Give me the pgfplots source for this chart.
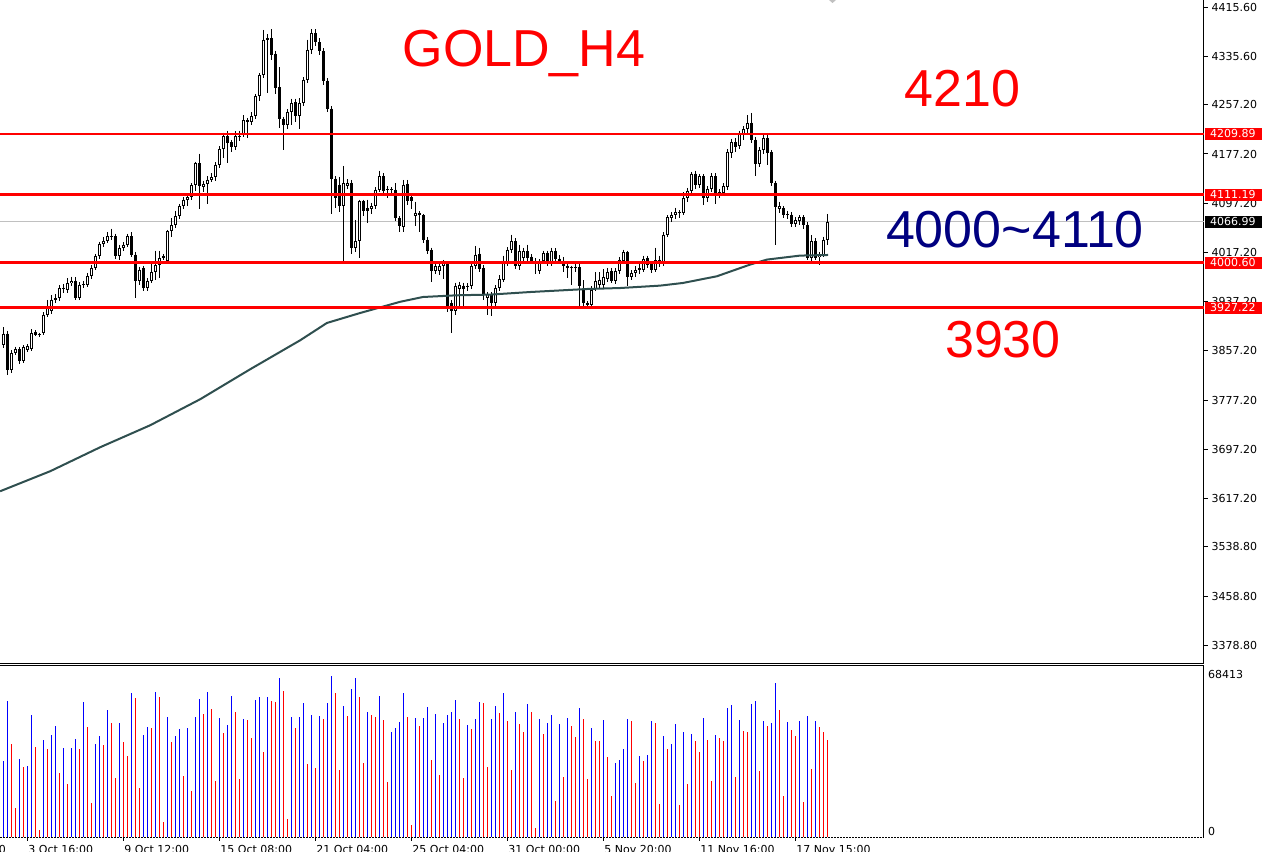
\documentclass[border=0pt]{standalone}
\usepackage{fontspec}
\setmainfont{DejaVu Sans}
\newfontfamily\arial{Liberation Sans}
\usepackage{pgfplots}
\usepackage{pgfplotstable}
\pgfplotsset{compat=1.18}
\definecolor{maline}{RGB}{47,79,79}
\definecolor{navyblue}{RGB}{0,0,128}
\definecolor{lblgray}{RGB}{192,192,192}
\newcommand\tk{\fontsize{11}{13}\selectfont}

\pgfplotstableread{
k o h l c
0 3867.4 3895.6 3862.0 3885.3
1 3885.3 3890.0 3818.6 3826.8
2 3826.8 3858.0 3822.0 3853.9
3 3853.9 3864.0 3850.0 3860.4
4 3860.4 3863.0 3836.0 3840.3
5 3841.4 3866.0 3838.0 3863.1
6 3859.3 3868.0 3856.0 3864.7
7 3860.4 3892.0 3857.0 3886.4
8 3888.0 3891.0 3881.0 3883.7
9 3883.7 3887.0 3880.0 3884.5
10 3886.4 3920.0 3883.0 3916.2
11 3916.2 3940.0 3913.0 3929.7
12 3921.6 3948.0 3917.0 3940.5
13 3940.0 3950.0 3935.0 3943.2
14 3943.2 3964.0 3939.0 3959.5
15 3960.0 3966.0 3952.0 3958.0
16 3956.8 3975.0 3951.0 3967.6
17 3967.6 3978.0 3962.0 3971.4
18 3971.4 3977.0 3940.0 3943.2
19 3943.2 3969.0 3940.0 3964.9
20 3964.9 3971.0 3960.0 3965.5
21 3964.9 3984.0 3961.0 3978.4
22 3978.4 3997.0 3974.0 3992.0
23 3992.0 4015.0 3988.0 4011.0
24 4011.0 4035.0 4006.0 4031.0
25 4031.0 4042.0 4026.0 4036.4
26 4036.4 4050.0 4032.0 4043.4
27 4043.4 4056.0 4038.0 4044.0
28 4043.4 4048.0 4007.0 4011.0
29 4011.0 4030.0 4005.0 4024.5
30 4024.5 4034.0 4020.0 4029.9
31 4029.9 4048.0 4026.0 4043.4
32 4043.4 4050.0 4010.0 4013.7
33 4013.7 4018.0 3943.0 3970.3
34 3971.4 3994.0 3965.0 3989.3
35 3992.0 3996.0 3955.0 3959.5
36 3959.5 3975.0 3954.0 3970.3
37 3970.3 4000.0 3967.0 3985.5
38 3985.5 4020.0 3972.0 3996.3
39 3996.3 4020.0 3975.0 4008.3
40 4008.3 4014.0 4005.0 4011.0
41 4002.8 4054.0 3999.0 4051.6
42 4051.6 4073.0 4042.0 4061.3
43 4061.3 4085.0 4057.0 4076.0
44 4076.0 4096.0 4071.0 4092.2
45 4092.2 4107.0 4088.0 4103.0
46 4103.0 4113.0 4093.0 4106.8
47 4106.8 4130.0 4102.0 4126.3
48 4126.3 4165.0 4117.0 4162.6
49 4162.6 4178.0 4088.0 4124.7
50 4123.6 4134.0 4115.0 4129.0
51 4129.0 4141.0 4096.0 4135.5
52 4135.5 4146.0 4131.0 4139.3
53 4139.3 4164.0 4134.0 4159.9
54 4159.9 4190.0 4155.0 4185.4
55 4185.4 4212.0 4171.0 4206.0
56 4206.0 4215.0 4162.0 4195.1
57 4196.2 4200.0 4180.0 4188.1
58 4188.1 4214.0 4183.0 4206.0
59 4206.0 4215.0 4198.0 4207.0
60 4208.7 4240.0 4205.0 4232.0
61 4232.0 4236.0 4204.0 4228.7
62 4228.7 4245.0 4224.0 4238.4
63 4238.4 4275.0 4234.0 4271.0
64 4271.0 4309.0 4264.0 4305.1
65 4305.1 4379.0 4300.0 4363.1
66 4365.8 4372.0 4276.0 4363.1
67 4365.8 4380.0 4330.0 4338.7
68 4340.3 4345.0 4275.0 4284.5
69 4285.6 4318.0 4220.0 4234.7
70 4234.7 4238.0 4184.0 4223.8
71 4223.8 4250.0 4218.0 4245.5
72 4245.5 4267.0 4225.0 4260.1
73 4261.2 4267.0 4230.0 4238.4
74 4238.4 4268.0 4218.0 4260.1
75 4260.1 4302.0 4255.0 4298.0
76 4298.0 4363.0 4292.0 4346.8
77 4346.8 4380.0 4340.0 4373.9
78 4373.9 4380.0 4352.0 4358.7
79 4358.7 4365.0 4338.0 4344.1
80 4344.1 4349.0 4290.0 4295.3
81 4296.4 4300.0 4245.0 4250.9
82 4250.9 4255.0 4080.0 4137.1
83 4137.1 4141.0 4090.0 4105.8
84 4127.4 4140.0 4083.0 4092.2
85 4092.2 4158.0 4001.7 4130.1
86 4126.0 4136.0 4120.0 4130.1
87 4130.1 4135.0 4014.0 4024.5
88 4024.5 4070.0 4018.0 4035.3
89 4035.3 4103.0 4008.0 4100.3
90 4100.3 4103.0 4077.0 4084.1
91 4089.5 4103.0 4065.0 4084.1
92 4087.9 4098.0 4079.0 4092.2
93 4092.2 4123.0 4088.0 4119.3
94 4119.3 4150.0 4115.0 4140.9
95 4140.9 4146.0 4110.0 4116.6
96 4119.0 4125.0 4105.0 4120.0
97 4119.3 4123.0 4110.0 4120.5
98 4119.3 4130.0 4068.0 4073.2
99 4073.2 4076.0 4050.0 4059.7
100 4058.1 4135.0 4050.0 4127.4
101 4129.1 4135.0 4095.0 4100.3
102 4106.8 4110.0 4088.0 4100.3
103 4075.9 4100.0 4060.0 4081.4
104 4081.4 4084.0 4050.0 4077.6
105 4077.6 4080.0 4032.0 4038.1
106 4038.1 4042.0 4015.0 4020.2
107 4021.3 4025.0 3970.0 3987.7
108 3987.7 3999.0 3982.0 3994.7
109 3987.7 4000.0 3980.0 3995.8
110 3994.7 4005.0 3974.0 4000.1
111 4000.1 4003.0 3920.0 3929.7
112 3935.1 3940.0 3886.4 3921.6
113 3921.6 3968.0 3916.0 3963.3
114 3957.9 3970.0 3930.0 3964.9
115 3963.3 3968.0 3928.0 3957.9
116 3962.5 3967.0 3955.0 3963.3
117 3962.2 4003.0 3958.0 3995.8
118 3995.8 4028.0 3990.0 4013.7
119 4015.3 4025.0 3985.0 3990.4
120 3992.0 3997.0 3940.0 3948.7
121 3943.3 3953.0 3915.0 3949.7
122 3949.7 3953.0 3914.0 3935.1
123 3935.1 3964.0 3928.0 3959.5
124 3959.5 3980.0 3954.0 3974.1
125 3973.0 4012.0 3969.0 4001.2
126 4001.2 4026.0 3995.0 4021.8
127 4021.8 4046.0 4017.0 4035.3
128 4035.3 4040.0 3990.0 3994.7
129 3994.7 4030.0 3989.0 4020.2
130 4008.2 4025.0 4002.0 4019.1
131 4019.1 4030.0 4004.0 4008.2
132 4010.4 4014.0 3998.0 4002.8
133 4002.8 4008.0 3982.0 4003.5
134 3986.6 4006.0 3982.0 4002.8
135 4002.8 4020.0 3998.0 4016.4
136 4016.4 4020.0 3995.0 4000.1
137 4000.1 4025.0 3996.0 4020.2
138 4020.2 4024.0 4002.0 4007.2
139 4007.2 4013.0 3998.0 4002.8
140 4002.8 4010.0 3985.0 3995.8
141 3995.8 3999.0 3976.0 3992.0
142 3993.1 3996.0 3965.0 3993.6
143 3993.1 3998.0 3985.0 3994.0
144 3993.1 3998.0 3928.0 3962.2
145 3956.8 3972.0 3929.0 3935.1
146 3935.1 3938.0 3927.0 3931.3
147 3932.4 3962.0 3928.0 3956.8
148 3958.4 3985.0 3955.0 3971.4
149 3964.9 3985.0 3960.0 3973.0
150 3964.9 3990.0 3960.0 3976.8
151 3974.7 3992.0 3970.0 3985.5
152 3986.6 3992.0 3968.0 3971.4
153 3971.4 3992.0 3966.0 3986.6
154 3986.6 4010.0 3982.0 4005.5
155 4003.9 4022.0 3999.0 4017.5
156 4017.5 4020.0 3962.0 3976.8
157 3976.8 3988.0 3972.0 3983.3
158 3983.3 3995.0 3978.0 3988.8
159 3988.8 4000.0 3983.0 3992.0
160 3989.3 4012.0 3985.0 4006.6
161 4008.2 4012.0 3992.0 3997.4
162 3998.5 4003.0 3984.0 3989.3
163 3989.3 4025.0 3985.0 4004.5
164 4005.5 4012.0 3993.0 4000.1
165 4000.1 4050.0 3996.0 4046.2
166 4046.2 4078.0 4042.0 4074.3
167 4073.2 4083.0 4066.0 4078.7
168 4078.7 4090.0 4072.0 4083.0
169 4083.0 4086.0 4074.0 4083.5
170 4081.4 4115.0 4078.0 4105.7
171 4105.7 4122.0 4100.0 4117.7
172 4117.7 4148.0 4114.0 4145.3
173 4145.3 4150.0 4120.0 4127.4
174 4127.4 4145.0 4122.0 4141.0
175 4141.0 4145.0 4095.0 4105.7
176 4105.7 4125.0 4100.0 4120.9
177 4120.9 4146.0 4115.0 4141.0
178 4141.0 4146.0 4096.0 4113.9
179 4111.2 4120.0 4106.0 4115.5
180 4113.9 4130.0 4110.0 4124.7
181 4123.1 4185.0 4118.0 4180.5
182 4178.9 4202.0 4170.0 4196.2
183 4196.2 4203.0 4180.0 4188.6
184 4189.7 4215.0 4185.0 4210.3
185 4210.3 4222.0 4200.0 4217.3
186 4217.3 4240.0 4212.0 4228.2
187 4228.2 4243.9 4195.0 4200.5
188 4200.5 4205.0 4142.0 4161.0
189 4161.0 4188.0 4156.0 4184.3
190 4184.3 4208.0 4178.0 4203.3
191 4203.3 4208.0 4160.0 4178.9
192 4180.5 4184.0 4125.0 4130.1
193 4130.1 4134.0 4029.9 4090.6
194 4088.4 4100.0 4082.0 4092.2
195 4089.5 4093.0 4073.0 4078.7
196 4078.7 4085.0 4072.0 4079.5
197 4078.7 4083.0 4058.0 4063.5
198 4063.5 4075.0 4058.0 4069.4
199 4068.9 4078.0 4062.0 4074.3
200 4074.3 4078.0 4055.0 4062.4
201 4062.4 4066.0 4005.0 4008.3
202 4008.3 4045.0 4003.0 4035.3
203 4035.3 4040.0 4005.0 4008.3
204 4010.0 4018.0 3997.0 4013.6
205 4013.6 4043.0 4010.0 4038.0
206 4038.0 4080.0 4030.0 4066.99
}\candles

\pgfplotstableread{
k m
-0.8 3629.1
11.7 3661.6
24.2 3700.6
36.7 3736.3
49.2 3778.6
61.7 3827.3
74.2 3874.4
80.9 3902.6
89.2 3918.8
99.2 3937.0
104.9 3944.8
113.4 3947.6
121.7 3948.7
131.7 3952.9
145.9 3957.8
154.2 3959.4
164.2 3963.3
169.9 3967.6
178.4 3978.5
186.7 3997.5
190.9 4005.6
199.2 4012.1
206.2 4013.1
}\ma

\pgfplotstableread{
k v d
0 32430 0
1 57810 0
2 39480 1
3 12549 1
4 33135 0
5 29751 1
6 30174 0
7 51747 0
8 38211 1
9 3102 1
10 41172 0
11 37365 1
12 43287 0
13 47094 0
14 27213 1
15 37788 0
16 22560 1
17 37788 0
18 41595 0
19 37365 1
20 57246 0
21 46671 1
22 14523 1
23 39480 0
24 42864 0
25 39057 1
26 53862 0
27 48363 1
28 25098 1
29 48363 0
30 40326 1
31 34404 1
32 61053 0
33 58938 1
34 20868 1
35 43287 0
36 46671 0
37 46248 1
38 61476 0
39 59361 1
40 6486 1
41 50901 0
42 40326 1
43 42864 0
44 45825 0
45 25944 1
46 46248 0
47 19599 1
48 50901 0
49 58515 0
50 52170 1
51 61476 0
52 54285 1
53 23829 1
54 50478 0
55 44133 1
56 47517 0
57 59784 0
58 53016 1
59 24675 1
60 50055 0
61 49632 1
62 42018 1
63 58092 0
64 59361 0
65 36096 1
66 59361 0
67 57669 1
68 57246 1
69 67398 0
70 61899 1
71 7755 1
72 50901 0
73 46248 1
74 50901 0
75 56823 0
76 31020 1
77 51747 0
78 29328 1
79 51324 0
80 50055 1
81 56823 0
82 68413 0
83 61053 1
84 28482 1
85 55554 0
86 51324 1
87 62745 0
88 67398 0
89 59361 1
90 31443 1
91 53016 0
92 51747 1
93 50901 1
94 59784 0
95 49632 1
96 23406 1
97 44556 0
98 46248 0
99 48786 0
100 61053 0
101 50901 1
102 5217 1
103 50478 0
104 47094 1
105 50478 0
106 55131 0
107 32712 1
108 52170 0
109 26367 1
110 48363 0
111 51747 0
112 53016 0
113 58092 0
114 50055 1
115 25098 1
116 47517 0
117 45825 1
118 50055 0
119 57246 0
120 56823 1
121 29751 1
122 50055 0
123 55554 0
124 52593 1
125 61053 0
126 49209 1
127 28482 1
128 53016 0
129 47940 1
130 44556 1
131 56400 0
132 53016 1
133 3948 1
134 50055 0
135 43710 1
136 48363 0
137 51747 0
138 15369 1
139 47940 0
140 25521 1
141 50478 0
142 47094 1
143 42441 1
144 54708 0
145 50055 1
146 24675 1
147 46248 0
148 40749 1
149 40749 1
150 49632 0
151 33981 1
152 17484 1
153 31443 0
154 32712 0
155 37365 0
156 50055 0
157 49209 1
158 22983 1
159 34404 0
160 32289 1
161 34827 0
162 49209 0
163 48363 1
164 14100 1
165 42864 0
166 37365 1
167 39480 0
168 47940 0
169 13677 1
170 44556 0
171 22560 1
172 43710 0
173 40749 1
174 36096 1
175 50478 0
176 41172 1
177 23829 1
178 43287 0
179 42018 1
180 40749 1
181 54708 0
182 55977 0
183 25521 1
184 49632 0
185 44979 1
186 44556 1
187 56400 0
188 57669 0
189 28059 1
190 49209 0
191 47094 1
192 48363 0
193 65283 0
194 53862 1
195 17484 1
196 48786 0
197 45402 1
198 42864 1
199 49209 0
200 14946 1
201 51324 0
202 28905 1
203 49209 0
204 46671 1
205 44556 1
206 41172 1
}\vols

\begin{document}
\begin{tikzpicture}[x=1pt,y=1pt]
\begin{axis}[
  at={(0pt,0pt)}, anchor=north west,
  scale only axis, width=1204pt, height=663.5pt,
  xmin=-0.825, xmax=300.175, ymin=3349.2, ymax=4427.46,
  axis x line*=bottom, axis y line*=right,
  axis line style={black, line width=1pt, -},
  xtick=\empty,
  ytick={4415.6,4335.6,4257.2,4177.2,4097.2,4017.2,3937.2,3857.2,3777.2,3697.2,3617.2,3538.8,3458.8,3378.8},
  yticklabels={4415.60,4335.60,4257.20,4177.20,4097.20,4017.20,3937.20,3857.20,3777.20,3697.20,3617.20,3538.80,3458.80,3378.80},
  tick align=outside, major tick length=4pt,
  ytick style={black, line width=1pt},
  yticklabel style={font=\tk, inner sep=0pt, anchor=west, xshift=3.5pt},
  unbounded coords=discard,
]
\addplot[lblgray, line width=1pt] coordinates {(-1,4066.99) (301,4066.99)};
% wicks
\addplot[draw=none, mark=none, error bars/.cd, y dir=minus, y explicit, error mark=none,
  error bar style={draw=black, line width=1pt, solid}]
  table[x=k, y=h, y error minus expr={\thisrow{h}-\thisrow{l}}] {\candles};
% body outline
\addplot[draw=none, mark=none, error bars/.cd, y dir=minus, y explicit, error mark=none,
  error bar style={draw=black, line width=3pt, solid}]
  table[x=k, y expr={max(\thisrow{o},\thisrow{c})}, y error minus expr={max(abs(\thisrow{c}-\thisrow{o}),1.63)}] {\candles};
% white interior of rising candles
\addplot[draw=none, mark=none, restrict expr to domain={\thisrow{c}-\thisrow{o}}{3.3:100000},
  error bars/.cd, y dir=minus, y explicit, error mark=none,
  error bar style={draw=white, line width=1pt, solid}]
  table[x=k, y expr={\thisrow{c}-1.63}, y error minus expr={\thisrow{c}-\thisrow{o}-3.26}] {\candles};
% moving average
\addplot[maline, line width=2pt] table[x=k, y=m] {\ma};
% levels
\addplot[red, line width=2.7pt] coordinates {(-1,4209.89) (301,4209.89)};
\addplot[red, line width=2.7pt] coordinates {(-1,4111.19) (301,4111.19)};
\addplot[red, line width=2.7pt] coordinates {(-1,4000.60) (301,4000.60)};
\addplot[red, line width=2.7pt] coordinates {(-1,3927.22) (301,3927.22)};
\coordinate (q1) at (axis cs:0,4209.89);
\coordinate (q2) at (axis cs:0,4111.19);
\coordinate (q3) at (axis cs:0,4066.99);
\coordinate (q4) at (axis cs:0,4000.60);
\coordinate (q5) at (axis cs:0,3927.22);
\end{axis}

\begin{axis}[
  at={(0pt,-665.7pt)}, anchor=north west,
  scale only axis, width=1204pt, height=171.6pt,
  xmin=-0.825, xmax=300.175, ymin=0, ymax=72647,
  axis lines=none, clip=false,
]
\addplot[ycomb, blue, line width=1pt, mark=none, restrict expr to domain={\thisrow{d}}{-0.5:0.5}] table[x=k, y=v] {\vols};
\addplot[ycomb, red, line width=1pt, mark=none, restrict expr to domain={\thisrow{d}}{0.5:1.5}] table[x=k, y=v] {\vols};
\draw[black, line width=1pt] (rel axis cs:0,1) -- (rel axis cs:1,1) -- (rel axis cs:1,0);
\draw[black, line width=1pt, dash pattern=on 2pt off 1pt] (rel axis cs:0,0) -- (rel axis cs:1,0);
\draw[black, line width=1pt] (axis cs:6,0) -- ++(0pt,-4pt);
\draw[black, line width=1pt] (axis cs:30,0) -- ++(0pt,-4pt);
\draw[black, line width=1pt] (axis cs:54,0) -- ++(0pt,-4pt);
\draw[black, line width=1pt] (axis cs:78,0) -- ++(0pt,-4pt);
\draw[black, line width=1pt] (axis cs:102,0) -- ++(0pt,-4pt);
\draw[black, line width=1pt] (axis cs:126,0) -- ++(0pt,-4pt);
\draw[black, line width=1pt] (axis cs:150,0) -- ++(0pt,-4pt);
\draw[black, line width=1pt] (axis cs:174,0) -- ++(0pt,-4pt);
\draw[black, line width=1pt] (axis cs:198,0) -- ++(0pt,-4pt);
\tikzset{xl/.style={anchor=north west, inner sep=0pt, font=\tk, xshift=1pt, yshift=-7.7pt}}
\node[xl] at (axis cs:-18,0) {29 Sep 16:00};
\node[xl] at (axis cs:6,0) {3 Oct 16:00};
\node[xl] at (axis cs:30,0) {9 Oct 12:00};
\node[xl] at (axis cs:54,0) {15 Oct 08:00};
\node[xl] at (axis cs:78,0) {21 Oct 04:00};
\node[xl] at (axis cs:102,0) {25 Oct 04:00};
\node[xl] at (axis cs:126,0) {31 Oct 00:00};
\node[xl] at (axis cs:150,0) {5 Nov 20:00};
\node[xl] at (axis cs:174,0) {11 Nov 16:00};
\node[xl] at (axis cs:198,0) {17 Nov 15:00};
\end{axis}

% price label boxes
\tikzset{pb/.style={anchor=west, inner sep=0pt, minimum height=12pt, font=\tk, text=white}}
\node[pb, fill=red] at (1205,0 |- q1) {\makebox[57pt][l]{\hspace{5pt}4209.89}};
\node[pb, fill=red] at (1205,0 |- q2) {\makebox[57pt][l]{\hspace{5pt}4111.19}};
\node[pb, fill=black] at (1205,0 |- q3) {\makebox[57pt][l]{\hspace{5pt}4066.99}};
\node[pb, fill=red] at (1205,0 |- q4) {\makebox[57pt][l]{\hspace{5pt}4000.60}};
\node[pb, fill=red] at (1205,0 |- q5) {\makebox[57pt][l]{\hspace{5pt}3927.22}};
% volume scale labels
\node[anchor=west, inner sep=0pt, font=\tk] at (1208,-674.7) {68413};
\node[anchor=west, inner sep=0pt, font=\tk] at (1208,-831.7) {0};
% annotations
\node[anchor=base, inner sep=0pt, text=red, font=\arial\fontsize{52}{60}\selectfont] at (524,-66) {GOLD\_H4};
\node[anchor=base, inner sep=0pt, text=red, font=\arial\fontsize{52}{60}\selectfont] at (962.5,-106) {4210};
\node[anchor=base, inner sep=0pt, text=navyblue, font=\arial\fontsize{52}{60}\selectfont] at (1015,-247) {4000\textasciitilde 4110};
\node[anchor=base, inner sep=0pt, text=red, font=\arial\fontsize{52}{60}\selectfont] at (1003,-357.5) {3930};
\fill[lblgray] (829,0) -- (836,0) -- (832.5,-3) -- cycle;
\pgfresetboundingbox
\path[use as bounding box] (0,0) rectangle (1262,-852);
\end{tikzpicture}
\end{document}
